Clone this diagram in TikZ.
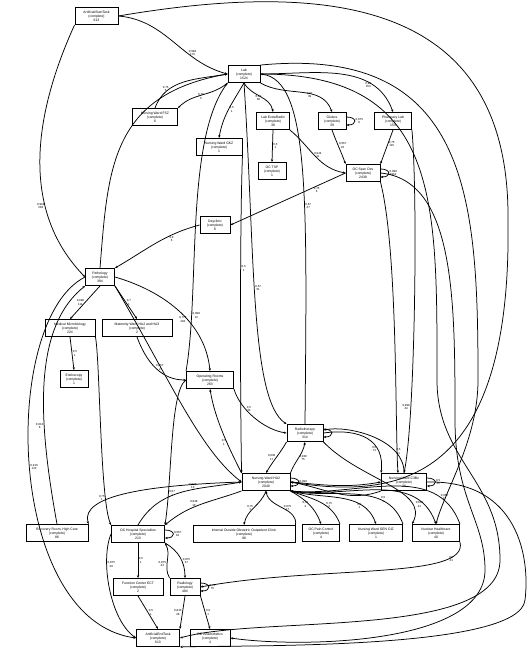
\documentclass[tikz,border=0pt]{standalone}
\usepackage{fontspec}
\setmainfont{Liberation Sans}
\usetikzlibrary{arrows.meta}
\tikzset{
  act/.style={draw, line width=0.9pt, align=center,
    font=\fontsize{3.4}{4.1}\selectfont, inner sep=0.8pt, minimum height=17pt},
  flow/.style={-{Stealth[length=2.8pt,width=2.2pt]}, line width=0.75pt},
  elab/.style={font=\fontsize{2.9}{3.4}\selectfont, align=center, inner sep=0.6pt},
}
\begin{document}
\begin{tikzpicture}[x=1pt,y=-1pt]
\useasboundingbox (0,0) rectangle (530,650);

% activities
\node[act, minimum width=43pt] (start) at (96.5,16) {ArtificialStartTask\\(complete)\\613};
\node[act, minimum width=32pt] (lab) at (244,74) {Lab\\(complete)\\1524};
\node[act, minimum width=45pt] (fsz) at (155,117) {Nursing Ward FSZ\\(complete)\\6};
\node[act, minimum width=33pt] (lxr) at (273,121) {Lab ExtraRadio\\(complete)\\38};
\node[act, minimum width=28pt] (glu) at (332,121) {Glukos\\(complete)\\39};
\node[act, minimum width=37pt] (phl) at (393,121) {Pharmacy Lab\\(complete)\\153};
\node[act, minimum width=46pt] (gkz) at (219,147) {Nursing Ward GKZ\\(complete)\\1};
\node[act, minimum width=28pt] (tsp) at (272,171) {OC TSP\\(complete)\\1};
\node[act, minimum width=34pt] (osd) at (363,173) {OC Spec Dev\\(complete)\\2439};
\node[act, minimum width=30pt] (day) at (215,225) {Dayclinic\\(complete)\\6};
\node[act, minimum width=29pt] (pat) at (100,277) {Pathology\\(complete)\\384};
\node[act, minimum width=50pt] (mmb) at (70,328) {Medical Microbiology\\(complete)\\224};
\node[act, minimum width=70pt] (mat) at (137,328) {Maternity Ward HA2 and HA3\\(complete)\\2};
\node[act, minimum width=28pt] (endo) at (74,379) {Endoscopy\\(complete)\\1};
\node[act, minimum width=47pt] (opr) at (210,380) {Operating Rooms\\(complete)\\263};
\node[act, minimum width=36pt] (rth) at (305,433) {Radiotherapy\\(complete)\\314};
\node[act, minimum width=48pt] (nha) at (266,482) {Nursing Ward HA2\\(complete)\\2049};
\node[act, minimum width=45pt] (ncb) at (404,482) {Nursing Ward C3Bo\\(complete)\\36};
\node[act, minimum width=62pt] (rec) at (57,533) {Recovery Room, High Care\\(complete)\\86};
\node[act, minimum width=53pt] (ohs) at (138,534) {OC Hospital Specialties\\(complete)\\213};
\node[act, minimum width=102pt] (ioo) at (244,534) {Internal Outside Obstetric Outpatient Clinic\\(complete)\\96};
\node[act, minimum width=37pt] (opc) at (321,533) {OC Pain Control\\(complete)\\4};
\node[act, minimum width=53pt] (ngg) at (376,533) {Nursing Ward GEN GIZ\\(complete)\\1};
\node[act, minimum width=47pt] (nuh) at (436,533) {Nuclear Healthcare\\(complete)\\40};
\node[act, minimum width=50pt] (fce) at (138,587) {Function Center ECT\\(complete)\\2};
\node[act, minimum width=30pt] (rad) at (185,587) {Radiology\\(complete)\\484};
\node[act, minimum width=43pt] (aend) at (158,638) {ArtificialEndTask\\(complete)\\613};
\node[act, minimum width=40pt] (oan) at (210,638) {OC Anaesthetics\\(complete)\\4};

% top part
\draw[flow] (start.east) to[out=-5,in=165] node[elab,pos=.7,above]{0,998\\176} (lab.west);
\draw[flow] (start.south west) .. controls (45,90) and (10,200) .. (pat.west) node[elab,pos=.72,left]{0,998\\238};
\draw[flow] (start.east) .. controls (330,-20) and (510,0) .. (508,220) .. controls (512,480) and (400,500) .. (nha.east);
\draw[flow] (fsz.north) to[out=70,in=190] node[elab,pos=.3,left]{0,75\\6} (lab.west);
\draw[flow] (lab.south west) to[out=220,in=45] node[elab,pos=.6,right]{0,75\\6} (fsz.north east);
\draw[flow] (lab.south) to[out=240,in=80] node[elab,pos=.5,right]{0,5\\1} (gkz.north);
\draw[flow] (lab.south) to[out=300,in=100] node[elab,pos=.55,left]{0,97\\38} (lxr.north);
\draw[flow] (lab.south east) to[out=330,in=110] node[elab,pos=.65,left]{0,97\\39} (glu.north);
\draw[flow] (lab.east) to[out=0,in=110] node[elab,pos=.75,left]{0,99\\153} (phl.north);
\draw[flow] ([yshift=4pt]glu.east) to[out=0,in=0,looseness=3.5] node[elab,right]{0,875\\8} ([yshift=-4pt]glu.east);
\draw[flow] (lxr.south) -- node[elab,right]{0,5\\1} (tsp.north);
\draw[flow] (lxr.south east) to[out=-40,in=170] node[elab,pos=.55,above]{0,944\\11} (osd.west);
\draw[flow] (glu.south) to[out=-70,in=110] node[elab,pos=.45,right]{0,667\\10} (osd.north west);
\draw[flow] (phl.south) to[out=-110,in=70] node[elab,pos=.4,right]{0,75\\115} (osd.north east);
\draw[flow] ([yshift=4pt]osd.east) to[out=0,in=0,looseness=3.5] node[elab,right]{0,998\\1961} ([yshift=-4pt]osd.east);
\draw[flow] (osd.west) -- node[elab,pos=.25,below]{0,75\\6} (day.east);
\draw[flow] (day.west) to[out=195,in=30] node[elab,pos=.3,below]{0,9\\6} (pat.north east);
\draw[flow] (pat.north) .. controls (108,170) and (110,95) .. (lab.west);
\draw[flow] (opr.north west) .. controls (200,290) and (185,140) .. (lab.south west) node[elab,pos=.2,right]{0,998\\13};
\draw[flow] (gkz.south east) .. controls (240,220) and (240,380) .. (nha.north west) node[elab,pos=.4,right]{0,5\\1};
\draw[flow] (lab.south) .. controls (255,250) and (250,400) .. (rth.north west) node[elab,pos=.45,right]{0,67\\51};
\draw[flow] (rth.north) .. controls (307,200) and (310,80) .. (lab.east) node[elab,pos=.4,right]{0,67\\27};

% middle part
\draw[flow] (pat.south) -- node[elab,left]{0,998\\111} (mmb.north);
\draw[flow] (pat.south east) -- node[elab,right]{0,7\\1} (mat.north);
\draw[flow] (mmb.south) -- node[elab,right]{0,5\\1} (endo.north);
\draw[flow] (mat.south) to[out=-70,in=180] node[elab,pos=.5,right]{0,667\\2} (opr.west);
\draw[flow] (pat.east) .. controls (160,290) and (205,320) .. (opr.north) node[elab,pos=.6,left]{0,778\\138};
\draw[flow] (mmb.south east) .. controls (100,360) and (100,500) .. (ohs.north west) node[elab,pos=.8,left]{0,75\\1};
\draw[flow] (opr.west) .. controls (170,390) and (172,480) .. (ohs.north east) node[elab,pos=.8,right]{0,67\\1};
\draw[flow] (opr.south east) .. controls (240,410) and (265,430) .. (rth.west) node[elab,pos=.4,above]{0,5\\33};
\draw[flow] (nha.north west) .. controls (230,450) and (215,420) .. (opr.south) node[elab,pos=.4,left]{0,5\\1};
\draw[flow] (pat.south east) .. controls (170,380) and (200,450) .. (nha.west);
\draw[flow] ([yshift=4pt]rth.east) to[out=0,in=0,looseness=3.5] ([yshift=-4pt]rth.east);
\draw[flow] (rth.south west) to[out=-120,in=60] node[elab,pos=.5,left]{0,938\\17} (nha.north);
\draw[flow] (nha.north east) to[out=70,in=-100] node[elab,pos=.5,right]{0,938\\75} (rth.south);
\draw[flow] (rth.east) .. controls (360,428) and (385,440) .. (ncb.north west) node[elab,pos=.7,left]{0,5\\74};
\draw[flow] (ncb.north) .. controls (405,440) and (350,425) .. ([yshift=3pt]rth.east) node[elab,pos=.25,right]{0,5\\11};
\draw[flow] (rth.south east) .. controls (360,480) and (430,490) .. (nuh.north west);
\draw[flow] ([yshift=4pt]ncb.east) to[out=0,in=0,looseness=3.5] node[elab,right]{0,5\\33} ([yshift=-4pt]ncb.east);
\draw[flow] ([yshift=4pt]nha.east) to[out=0,in=0,looseness=3.5] node[elab,right]{0,998} ([yshift=-4pt]nha.east);
\draw[flow] (ncb.south west) to[out=200,in=-10] (nha.east);
\draw[flow] (nha.east) to[out=-5,in=190] (ncb.west);

% bottom row
\draw[flow] (nha.west) .. controls (150,485) and (80,495) .. (rec.north east);
\draw[flow] (nha.south west) to[out=200,in=40] node[elab,pos=.6,above]{0,938\\10} (ohs.north east);
\draw[flow] (ohs.north) to[out=60,in=190] node[elab,pos=.6,above]{0,938\\10} (nha.west);
\draw[flow] (nha.south) to[out=-110,in=80] node[elab,pos=.5,left]{0,75\\1} (ioo.north);
\draw[flow] (ioo.north east) to[out=80,in=-80] node[elab,pos=.5,right]{0,875\\17} (nha.south);
\draw[flow] (nha.south east) to[out=-30,in=110] node[elab,pos=.5,left]{0,75\\2} (opc.north);
\draw[flow] (opc.north east) to[out=110,in=-20] node[elab,pos=.4,right]{0,75\\4} (nha.south east);
\draw[flow] (nha.south east) to[out=-15,in=110] node[elab,pos=.75,left]{0,5\\1} (ngg.north);
\draw[flow] (ngg.north east) to[out=110,in=-10] node[elab,pos=.3,right]{0,5\\1} (nha.south east);
\draw[flow] (nha.south east) to[out=-8,in=110] node[elab,pos=.85,left]{0,667\\41} (nuh.north);
\draw[flow] (nuh.north east) to[out=110,in=-5] node[elab,pos=.2,right]{0,667\\17} (nha.south east);
\draw[flow] ([yshift=4pt]ohs.east) to[out=0,in=0,looseness=3.5] node[elab,right]{0,667\\10} ([yshift=-4pt]ohs.east);
\draw[flow] (ohs.south) -- node[elab,right]{0,5\\1} (fce.north);
\draw[flow] (rad.north west) to[out=120,in=-60] node[elab,pos=.4,left]{0,875\\44} (ohs.south east);
\draw[flow] (ohs.south east) to[out=-30,in=90] node[elab,pos=.6,right]{0,875\\47} (rad.north);
\draw[flow] (ohs.west) .. controls (100,560) and (110,620) .. (aend.west) node[elab,pos=.3,right]{0,875\\28};
\draw[flow] (fce.south) -- node[elab,right]{0,5\\1} (aend.north);
\draw[flow] (rad.south) -- node[elab,left]{0,833\\28} (aend.north east);
\draw[flow] (rad.south east) -- node[elab,right]{0,5\\1} (oan.north);
\draw[flow] ([yshift=4pt]rad.east) to[out=0,in=0,looseness=3.5] node[elab,right]{0,75\\70} ([yshift=-4pt]rad.east);
\draw[flow] (pat.west) .. controls (0,320) and (5,620) .. (aend.west) node[elab,pos=.5,right]{0,910\\123};
\draw[flow] (rec.north) .. controls (40,430) and (30,330) .. (pat.south west) node[elab,pos=.35,left]{0,813\\8};

% right side
\draw[flow] (lab.north east) .. controls (470,45) and (478,200) .. (478,380) .. controls (478,440) and (445,490) .. (nuh.north);
\draw[flow] (lab.east) .. controls (440,74) and (437,200) .. (437,380) .. controls (437,460) and (500,480) .. (500,560) .. controls (500,640) and (260,615) .. (aend.east);
\draw[flow] (phl.south east) .. controls (418,200) and (415,420) .. (ncb.north) node[elab,pos=.75,left]{0,998\\44};
\draw[flow] (osd.south east) .. controls (398,250) and (395,430) .. ([xshift=-6pt]ncb.north);
\draw[flow] (osd.east) .. controls (455,180) and (455,300) .. (455,420) .. controls (455,500) and (485,520) .. (485,570) .. controls (485,645) and (300,648) .. (oan.east);
\draw[flow] (ncb.east) .. controls (520,480) and (530,560) .. (525,600) .. controls (520,650) and (250,645) .. (aend.south east);
\draw[flow] (nuh.south east) .. controls (470,580) and (320,565) .. (rad.east) node[elab,pos=.2,right]{0,5\\41};
\end{tikzpicture}
\end{document}
